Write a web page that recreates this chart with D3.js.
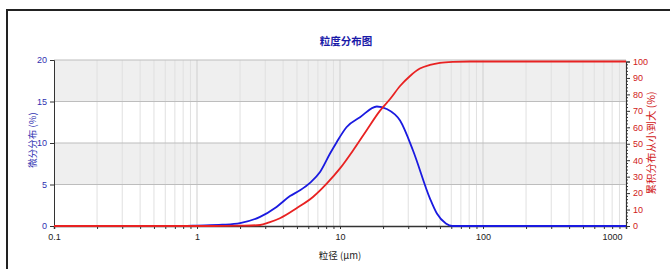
<!DOCTYPE html>
<html>
<head>
<meta charset="utf-8">
<script src="https://cdn.jsdelivr.net/npm/d3@7"></script>
<style>
body{margin:0;background:#fff;}
svg text{font-family:"Liberation Sans Narrow","Liberation Sans",sans-serif;}
.cjk{font-family:"Noto Sans CJK SC",sans-serif;}
</style>
</head>
<body>
<div class="chart"></div>
<script>
// 微分分布 (%)
const diffSizes=[0.1,0.8,1.0,1.5,2.0,2.76,3.6,4.47,5.25,6.17,7.25,8.5,9.48,11.1,13.8,18.1,21.2,26.3,32.4,42.6,47.6,55,61,100,1000]
const diffValues=[0,0,0.05,0.15,0.35,1.1,2.3,3.6,4.3,5.2,6.5,8.7,10.1,11.9,13.1,14.4,14.1,12.7,9.1,3.3,1.5,0.3,0,0,0]
// 累积分布 (%)
const cumSizes=[0.1,1.3,2.0,2.76,3.2,3.8,4.97,6.5,8.1,10,12.4,15.4,19,22.4,26.3,30.9,36.2,42.6,50,61.5,81,1000]
const cumValues=[0,0,0.2,0.6,2.2,4.7,10.8,17.8,25.9,35.0,46.2,58.4,70,77.2,85.1,91.2,95.7,97.9,99.2,99.8,100,100]
const xTicks=[0.1,1,10,100,1000]
const leftTicks=[0,5,10,15,20]
const rightTicks=[0,10,20,30,40,50,60,70,80,90,100]

const W=670,H=269
const plotLeft=54,plotRight=626,plotTop=60,plotBottom=226

const svg=d3.select('.chart').append('svg')
	.attr('width',W).attr('height',H)

// frame
svg.append('rect')
	.attr('x',7).attr('y',10).attr('width',700).attr('height',300)
	.attr('fill','none').attr('stroke','#222').attr('stroke-width',2)

let xScale=d3.scaleLog().domain([0.1,1000]).range([plotLeft,plotRight])
let yLeft=d3.scaleLinear().domain([0,20]).range([plotBottom,plotTop])
let yRight=d3.scaleLinear().domain([0,100]).range([plotBottom,61.5])

// bands
svg.selectAll('.band')
	.data([[15,20],[5,10]])
	.enter().append('rect')
	.attr('x',plotLeft).attr('width',plotRight-plotLeft)
	.attr('y',d=>yLeft(d[1]))
	.attr('height',d=>yLeft(d[0])-yLeft(d[1]))
	.attr('fill','#efefef')

// minor log positions
let minor=[]
for(let e=-1;e<3;e++){
	for(let m=1;m<10;m++) minor.push(m*Math.pow(10,e))
}
minor.push(1000)

svg.selectAll('.vgrid')
	.data(minor.slice(1))
	.enter().append('line')
	.attr('x1',d=>xScale(d)).attr('x2',d=>xScale(d))
	.attr('y1',plotTop).attr('y2',plotBottom)
	.attr('stroke',d=>xTicks.includes(d)?'#cfcfcf':'#e0e0e0')
	.attr('stroke-width',1)

svg.selectAll('.hgrid')
	.data([5,10,15,20])
	.enter().append('line')
	.attr('x1',plotLeft).attr('x2',plotRight)
	.attr('y1',d=>yLeft(d)).attr('y2',d=>yLeft(d))
	.attr('stroke','#bdbdbd')

// x axis
const xAxis=d3.axisBottom(xScale)
	.tickValues(minor).tickSize(3).tickFormat(d=>xTicks.includes(d)?d3.format('~g')(d):'')
let gx=svg.append('g')
	.attr('transform','translate(0,'+plotBottom+')')
	.call(xAxis)
gx.select('.domain').attr('stroke','#333').attr('stroke-width',1.5)
gx.selectAll('.tick line').attr('stroke','#333')
gx.selectAll('text').attr('font-size',9).attr('fill','#222').attr('dy','0.9em')
gx.selectAll('.tick').filter(d=>d===1000).select('text').attr('text-anchor','end').attr('dx',-4)

// left axis
const yAxisL=d3.axisLeft(yLeft).tickValues(leftTicks).tickSize(4)
let gl=svg.append('g').attr('transform','translate('+plotLeft+',0)').call(yAxisL)
gl.select('.domain').attr('stroke','#333')
gl.selectAll('.tick line').attr('stroke','#333')
gl.selectAll('text').attr('font-size',9).attr('fill','#3030b0')

// right axis
const yAxisR=d3.axisRight(yRight).tickValues(rightTicks).tickSize(4).tickPadding(3)
let gr=svg.append('g').attr('transform','translate('+plotRight+',0)').call(yAxisR)
gr.select('.domain').attr('stroke','#333')
gr.selectAll('.tick line').attr('stroke','#333')
gr.selectAll('text').attr('font-size',9).attr('fill','#d02020')
gr.selectAll('.minor')
	.data(d3.range(0,101,2).filter(v=>v%10!==0))
	.enter().append('line')
	.attr('x1',0).attr('x2',2)
	.attr('y1',d=>yRight(d)).attr('y2',d=>yRight(d))
	.attr('stroke','#333')

// lines
const blueLine=d3.line()
	.x((d,i)=>xScale(diffSizes[i]))
	.y(d=>yLeft(d))
	.curve(d3.curveMonotoneX)
svg.append('path')
	.datum(diffValues)
	.attr('d',blueLine)
	.attr('fill','none').attr('stroke','#1a1ae0').attr('stroke-width',1.8)

const redLine=d3.line()
	.x((d,i)=>xScale(cumSizes[i]))
	.y(d=>yRight(d))
	.curve(d3.curveMonotoneX)
svg.append('path')
	.datum(cumValues)
	.attr('d',redLine)
	.attr('fill','none').attr('stroke','#e82222').attr('stroke-width',1.8)

// titles
svg.append('text')
	.attr('class','cjk')
	.attr('x',346).attr('y',45)
	.attr('text-anchor','middle')
	.attr('font-size',10.5).attr('font-weight','bold')
	.attr('fill','#1a1aa8')
	.text('粒度分布图')

svg.append('text')
	.attr('class','cjk')
	.attr('x',340).attr('y',259)
	.attr('text-anchor','middle')
	.attr('font-size',9.5).attr('fill','#222')
	.text('粒径 (μm)')

svg.append('text')
	.attr('class','cjk')
	.attr('transform','translate(36,140) rotate(-90)')
	.attr('text-anchor','middle')
	.attr('font-size',9.5).attr('fill','#3030b0')
	.text('微分分布 (%)')

svg.append('text')
	.attr('class','cjk')
	.attr('transform','translate(655,143) rotate(-90)')
	.attr('text-anchor','middle')
	.attr('font-size',10.5).attr('fill','#d02020')
	.text('累积分布从小到大 (%)')
</script>
</body>
</html>
